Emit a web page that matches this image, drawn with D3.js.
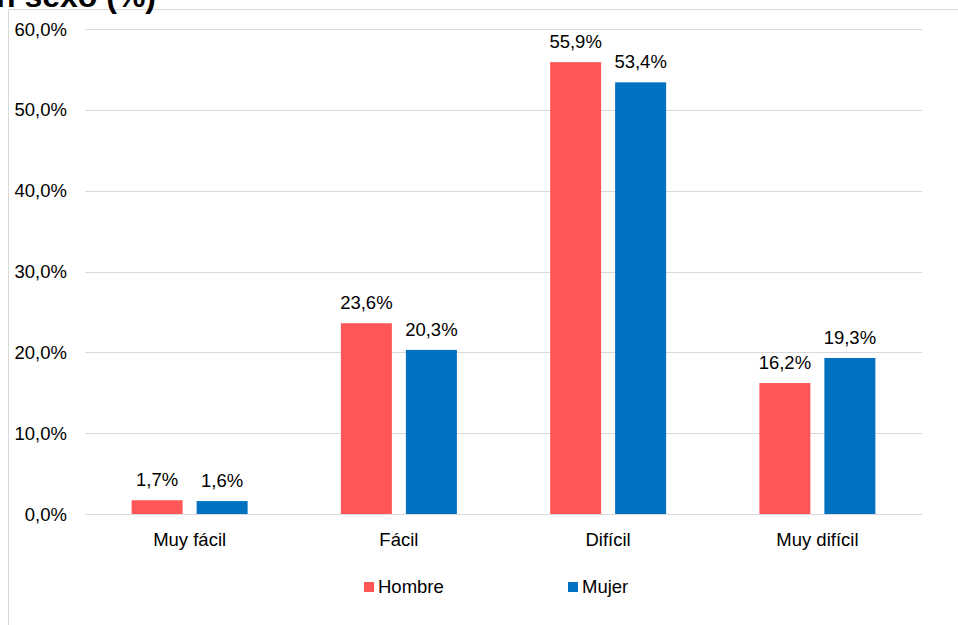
<!DOCTYPE html>
<html><head><meta charset="utf-8">
<script src="https://cdn.jsdelivr.net/npm/d3@7"></script>
<style>body{margin:0;background:#fff;}svg{display:block;font-family:"Liberation Sans",Arial,sans-serif;}</style>
</head><body>
<script>
const categories = ["Muy fácil", "Fácil", "Difícil", "Muy difícil"];
const seriesNames = ["Hombre", "Mujer"];
const hombre = [1.7, 23.6, 55.9, 16.2];
const mujer = [1.6, 20.3, 53.4, 19.3];
const yTicks = [0, 10, 20, 30, 40, 50, 60];
const colors = ["#FF5757", "#0070C0"];
const titleText = "según sexo (%)";

const W = 958, H = 625;
const svg = d3.select("body").append("svg").attr("width", W).attr("height", H);

// frame
svg.append("line").attr("x1", 8.5).attr("x2", W).attr("y1", 9.5).attr("y2", 9.5).attr("stroke", "#d9d9d9");
svg.append("line").attr("x1", 8.5).attr("x2", 8.5).attr("y1", 9.5).attr("y2", H).attr("stroke", "#d9d9d9");

// clipped title
svg.append("text").attr("x", 156).attr("y", 7).attr("text-anchor", "end")
  .attr("font-weight", "bold").attr("font-size", 32).attr("fill", "#000").text(titleText);

const pLeft = 85, pRight = 922, pTop = 29, pBottom = 514;
const y = d3.scaleLinear().domain([0, 60]).range([pBottom, pTop]);
const x0 = d3.scaleBand().domain(categories).range([pLeft, pRight]);
const bw = x0.bandwidth();
const x1 = d3.scaleBand().domain(seriesNames).range([bw / 2 - 58, bw / 2 + 58]).paddingInner(14 / 65);

const fmt = v => d3.format(".1f")(v).replace(".", ",") + "%";

// grid
svg.append("g").selectAll("line").data(yTicks).join("line")
  .attr("x1", pLeft).attr("x2", pRight)
  .attr("y1", d => Math.round(y(d)) + 0.5).attr("y2", d => Math.round(y(d)) + 0.5)
  .attr("stroke", "#d9d9d9").attr("stroke-width", 1);

svg.append("g").selectAll("text").data(yTicks).join("text")
  .attr("x", 67).attr("y", d => y(d) + 6.5).attr("text-anchor", "end")
  .attr("font-size", 18.5).attr("fill", "#000").text(d => fmt(d));

const data = categories.map((c, i) => ({ cat: c, vals: [hombre[i], mujer[i]] }));

const groups = svg.append("g").selectAll("g").data(data).join("g")
  .attr("transform", d => `translate(${x0(d.cat)},0)`);

groups.selectAll("rect").data(d => d.vals.map((v, j) => ({ s: seriesNames[j], v, j }))).join("rect")
  .attr("x", d => x1(d.s)).attr("width", x1.bandwidth())
  .attr("y", d => y(d.v)).attr("height", d => y(0) - y(d.v))
  .attr("fill", d => colors[d.j]);

groups.selectAll("text.lbl").data(d => d.vals.map((v, j) => ({ s: seriesNames[j], v, j }))).join("text")
  .attr("class", "lbl")
  .attr("x", d => x1(d.s) + x1.bandwidth() / 2).attr("y", d => y(d.v) - 14)
  .attr("text-anchor", "middle").attr("font-size", 18.5).attr("fill", "#000").text(d => fmt(d.v));

// category labels
svg.append("g").selectAll("text").data(categories).join("text")
  .attr("x", d => x0(d) + bw / 2).attr("y", 546).attr("text-anchor", "middle")
  .attr("font-size", 18.5).attr("fill", "#000").text(d => d);

// legend
const legX = [364, 568];
const leg = svg.append("g").selectAll("g").data(seriesNames).join("g")
  .attr("transform", (d, i) => `translate(${legX[i]},582)`);
leg.append("rect").attr("width", 10).attr("height", 10).attr("fill", (d, i) => colors[i]);
leg.append("text").attr("x", 14).attr("y", 10.5).attr("font-size", 18.5).attr("fill", "#000").text(d => d);
</script>
</body></html>
